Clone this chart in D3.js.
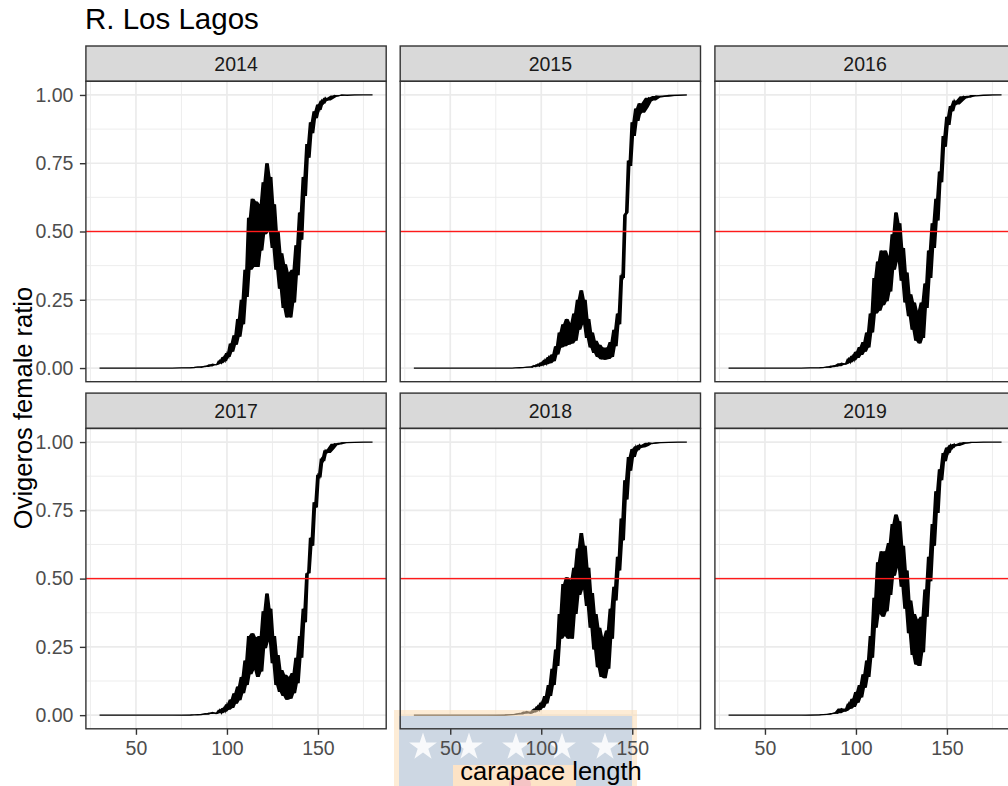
<!DOCTYPE html>
<html>
<head>
<meta charset="utf-8">
<script src="https://cdn.jsdelivr.net/npm/d3@7"></script>
<style>
  html, body { margin: 0; padding: 0; background: #ffffff; }
  svg { display: block; font-family: "Liberation Sans", Arial, sans-serif; }
</style>
</head>
<body>
<svg id="chart" width="1008" height="786"></svg>
<script>
// ---- data -------------------------------------------------------------
const years = ["2014", "2015", "2016", "2017", "2018", "2019"];

// carapace length grid (mm)
const carapace = [30,40,50,60,70,75,80,82,84,86,88,90,92,94,
  95,96,97,98,99,100,101,102,103,104,105,106,107,108,109,110,111,112,113,114,
  115,116,117,118,119,120,121,122,123,124,125,126,127,128,129,130,131,132,133,134,
  135,136,137,138,139,140,141,142,143,144,145,146,147,148,149,150,151,152,153,154,155,
  157,159,161,163,166,170,175,180];

// predicted proportion of ovigerous females at each length
const ratio2014 = [0,0,0,0,0,0.0005,0.001,0.002,0.004,0.003,0.007,0.006,0.014,0.012,
  .014,.028,.018,.04,.025,.055,.04,.09,.06,.12,.085,.18,.115,.25,.16,.36,.26,.55,.36,.62,
  .37,.61,.37,.60,.43,.68,.49,.75,.50,.70,.44,.60,.36,.50,.29,.42,.22,.38,.185,.35,
  .185,.36,.24,.45,.34,.57,.47,.70,.63,.82,.77,.90,.86,.94,.915,.965,.945,.98,.968,.99,.98,
  .988,.998,.996,1,.999,1,1,1];
const ratio2015 = [0,0,0,0,0,0,0,0,0,0.0005,0.001,0.0015,0.003,0.004,
  .003,.009,.005,.014,.007,.02,.01,.03,.014,.04,.018,.05,.025,.08,.05,.13,.075,.16,.08,.18,
  .085,.165,.09,.20,.10,.25,.14,.285,.16,.25,.11,.18,.075,.13,.055,.10,.04,.085,.032,.075,
  .03,.075,.033,.095,.04,.14,.08,.20,.16,.34,.33,.56,.57,.76,.74,.90,.85,.95,.905,.97,.935,
  .955,.99,.98,.996,.993,.998,.999,1];
const ratio2016 = [0,0,0,0,0,0.0005,0.001,0.0015,0.004,0.003,0.009,0.007,0.018,0.014,
  .016,.035,.02,.045,.028,.06,.037,.077,.048,.095,.06,.13,.075,.20,.13,.33,.20,.39,.21,.43,
  .23,.43,.245,.41,.28,.49,.36,.57,.39,.53,.32,.44,.24,.35,.19,.27,.14,.24,.10,.21,
  .09,.24,.11,.31,.22,.43,.33,.53,.44,.62,.54,.72,.68,.85,.81,.92,.89,.96,.94,.98,.965,
  .978,.995,.99,.997,.997,.999,1,1];
const ratio2017 = [0,0,0,0,0,0,0.0005,0.001,0.0015,0.002,0.005,0.004,0.01,0.006,
  .007,.02,.007,.026,.012,.04,.02,.057,.026,.08,.042,.105,.055,.14,.08,.20,.11,.29,.15,.30,
  .165,.285,.14,.29,.16,.38,.245,.445,.27,.39,.19,.29,.11,.22,.085,.165,.07,.148,.056,.14,
  .06,.154,.08,.21,.117,.29,.21,.39,.34,.52,.52,.65,.62,.78,.76,.88,.87,.94,.93,.97,.96,
  .975,.994,.991,.997,.998,.999,1,1];
const ratio2018 = [0,0,0,0,0,0,0.0005,0.001,0.002,0.003,0.006,0.005,0.013,0.007,
  .008,.022,.012,.033,.018,.046,.027,.07,.043,.11,.07,.17,.11,.24,.18,.37,.28,.48,.29,.505,
  .28,.495,.28,.54,.37,.61,.44,.667,.46,.62,.40,.54,.32,.447,.24,.37,.175,.32,.14,.285,
  .135,.31,.17,.39,.28,.47,.42,.58,.53,.72,.64,.86,.79,.945,.895,.975,.945,.985,.97,.99,.98,
  .986,.997,.994,.997,.998,.999,1,1];
const ratio2019 = [0,0,0,0,0,0,0.001,0.002,0.003,0.004,0.008,0.007,0.024,0.014,
  .017,.043,.023,.06,.03,.085,.045,.11,.065,.15,.10,.20,.14,.29,.21,.43,.32,.56,.37,.60,
  .36,.60,.38,.63,.44,.70,.51,.735,.54,.71,.47,.62,.39,.53,.30,.42,.22,.37,.185,.35,
  .18,.36,.23,.46,.36,.58,.49,.70,.62,.82,.74,.90,.86,.96,.93,.98,.96,.99,.977,.993,.986,
  .99,.998,.996,.999,.999,1,1,1];

const ratios = [ratio2014, ratio2015, ratio2016, ratio2017, ratio2018, ratio2019];

const threshold = 0.5;
const xTicks = [50, 100, 150];
const xMinor = [25, 75, 125, 175];
const yTicks = [0, 0.25, 0.5, 0.75, 1];
const yMinor = [0.125, 0.375, 0.625, 0.875];

const titleText = "R. Los Lagos";
const xTitle = "carapace length";
const yTitle = "Ovigeros female ratio";

// ---- layout -----------------------------------------------------------
const svg = d3.select("#chart");
const colLeft = [85.9, 400.2, 714.9];
const panelW = 300.3;
const rowTop = [81.3, 428.4];
const panelH = 300.4;
const stripH = 35.3;

const xDomain = [22.5, 187.5];
const yDomain = [-0.05, 1.05];

const gridCol = "#ebebeb";
const frameCol = "#333333";

svg.append("text")
  .attr("x", 85).attr("y", 28.5)
  .attr("font-size", 29.5).attr("fill", "#000")
  .text(titleText);

const panelLayer = svg.append("g");
const refLayer = svg.append("g");
const overlayLayer = svg.append("g");
const frameLayer = svg.append("g");
const axisLayer = svg.append("g");

const panels = years.map((yr, i) => {
  const col = i % 3, row = Math.floor(i / 3);
  const left = colLeft[col], top = rowTop[row];
  const x = d3.scaleLinear().domain(xDomain).range([left, left + panelW]);
  const y = d3.scaleLinear().domain(yDomain).range([top + panelH, top]);
  return { yr, i, col, row, left, top, x, y };
});

panels.forEach(p => {
  const g = panelLayer.append("g");

  g.append("rect").attr("x", p.left).attr("y", p.top)
    .attr("width", panelW).attr("height", panelH).attr("fill", "#fff");

  // minor grid
  g.append("g").selectAll("line").data(xMinor).join("line")
    .attr("x1", d => p.x(d)).attr("x2", d => p.x(d))
    .attr("y1", p.top).attr("y2", p.top + panelH)
    .attr("stroke", gridCol).attr("stroke-width", 0.9);
  g.append("g").selectAll("line").data(yMinor).join("line")
    .attr("y1", d => p.y(d)).attr("y2", d => p.y(d))
    .attr("x1", p.left).attr("x2", p.left + panelW)
    .attr("stroke", gridCol).attr("stroke-width", 0.9);
  // major grid
  g.append("g").selectAll("line").data(xTicks).join("line")
    .attr("x1", d => p.x(d)).attr("x2", d => p.x(d))
    .attr("y1", p.top).attr("y2", p.top + panelH)
    .attr("stroke", gridCol).attr("stroke-width", 1.7);
  g.append("g").selectAll("line").data(yTicks).join("line")
    .attr("y1", d => p.y(d)).attr("y2", d => p.y(d))
    .attr("x1", p.left).attr("x2", p.left + panelW)
    .attr("stroke", gridCol).attr("stroke-width", 1.7);

  // fitted ratio curve: dense jagged trace, its local spread shaded solid
  const r = ratios[p.i];
  const pts = carapace.map((c, k) => [c, r[k]]);
  const spread = carapace.map((c, k) => {
    const w = r.slice(Math.max(0, k - 1), k + 2);
    return { c, lo: d3.min(w), hi: d3.max(w) };
  });
  const band = d3.area().x(d => p.x(d.c)).y0(d => p.y(d.lo)).y1(d => p.y(d.hi));
  g.append("path").attr("d", band(spread))
    .attr("fill", "#000").attr("stroke", "none");
  const line = d3.line().x(d => p.x(d[0])).y(d => p.y(d[1]));
  g.append("path")
    .attr("d", line(pts))
    .attr("fill", "none").attr("stroke", "#000")
    .attr("stroke-width", 1.3).attr("stroke-linejoin", "miter");

  // 50% reference line
  const yRef = p.y(threshold);
  refLayer.append("rect")
    .attr("x", p.left).attr("width", panelW)
    .attr("y", yRef - 0.7).attr("height", 1.4)
    .attr("fill", "#ff1a1a");

  // strip
  frameLayer.append("rect")
    .attr("x", p.left).attr("y", p.top - stripH)
    .attr("width", panelW).attr("height", stripH)
    .attr("fill", "#d9d9d9").attr("stroke", frameCol).attr("stroke-width", 1.4);
  frameLayer.append("text")
    .attr("x", p.left + panelW / 2).attr("y", p.top - stripH / 2)
    .attr("text-anchor", "middle").attr("dominant-baseline", "central")
    .attr("font-size", 19.5).attr("fill", "#1a1a1a")
    .text(p.yr);
  // panel border
  frameLayer.append("rect")
    .attr("x", p.left).attr("y", p.top)
    .attr("width", panelW).attr("height", panelH)
    .attr("fill", "none").attr("stroke", frameCol).attr("stroke-width", 1.4);

  // axes
  if (p.col === 0) {
    const ay = axisLayer.append("g").attr("transform", `translate(${p.left},0)`)
      .call(d3.axisLeft(p.y).tickValues(yTicks).tickFormat(d3.format(".2f"))
        .tickSize(6).tickPadding(6.5));
    ay.select(".domain").remove();
    ay.selectAll("line").attr("stroke", frameCol).attr("stroke-width", 1.4);
    ay.selectAll("text").attr("font-size", 19.5).attr("fill", "#4d4d4d")
      .attr("font-family", "Liberation Sans, Arial, sans-serif");
  }
  if (p.row === 1) {
    const ax = axisLayer.append("g").attr("transform", `translate(0,${p.top + panelH})`)
      .call(d3.axisBottom(p.x).tickValues(xTicks).tickFormat(d3.format("d"))
        .tickSize(6).tickPadding(6));
    ax.select(".domain").remove();
    ax.selectAll("line").attr("stroke", frameCol).attr("stroke-width", 1.4);
    ax.selectAll("text").attr("font-size", 19.5).attr("fill", "#4d4d4d")
      .attr("font-family", "Liberation Sans, Arial, sans-serif");
  }
});

// emblem badge sitting over the lower axis
const badge = overlayLayer.append("g");
badge.append("rect").attr("x", 394).attr("y", 710).attr("width", 243).attr("height", 80)
  .attr("fill", "#fbdcb4").attr("opacity", 0.55);
badge.append("rect").attr("x", 399).attr("y", 716).attr("width", 233).attr("height", 80)
  .attr("fill", "#cdd7e3");
const star = d3.symbol().type(d3.symbolStar).size(240);
[423, 469, 516, 562, 605].forEach(cx => {
  badge.append("path").attr("d", star())
    .attr("transform", `translate(${cx},747)`)
    .attr("fill", "#ffffff").attr("opacity", 0.85);
});
badge.append("rect").attr("x", 453).attr("y", 765).attr("width", 123).attr("height", 30)
  .attr("fill", "#fde3c6");
badge.append("ellipse").attr("cx", 520).attr("cy", 784).attr("rx", 11).attr("ry", 8)
  .attr("fill", "#f2bcc4").attr("opacity", 0.8);

// axis titles
svg.append("text")
  .attr("transform", "translate(31.5,408) rotate(-90)")
  .attr("text-anchor", "middle").attr("font-size", 25.5).attr("fill", "#000")
  .text(yTitle);
svg.append("text")
  .attr("x", 551).attr("y", 780)
  .attr("text-anchor", "middle").attr("font-size", 25.5).attr("fill", "#000")
  .text(xTitle);
</script>
</body>
</html>
